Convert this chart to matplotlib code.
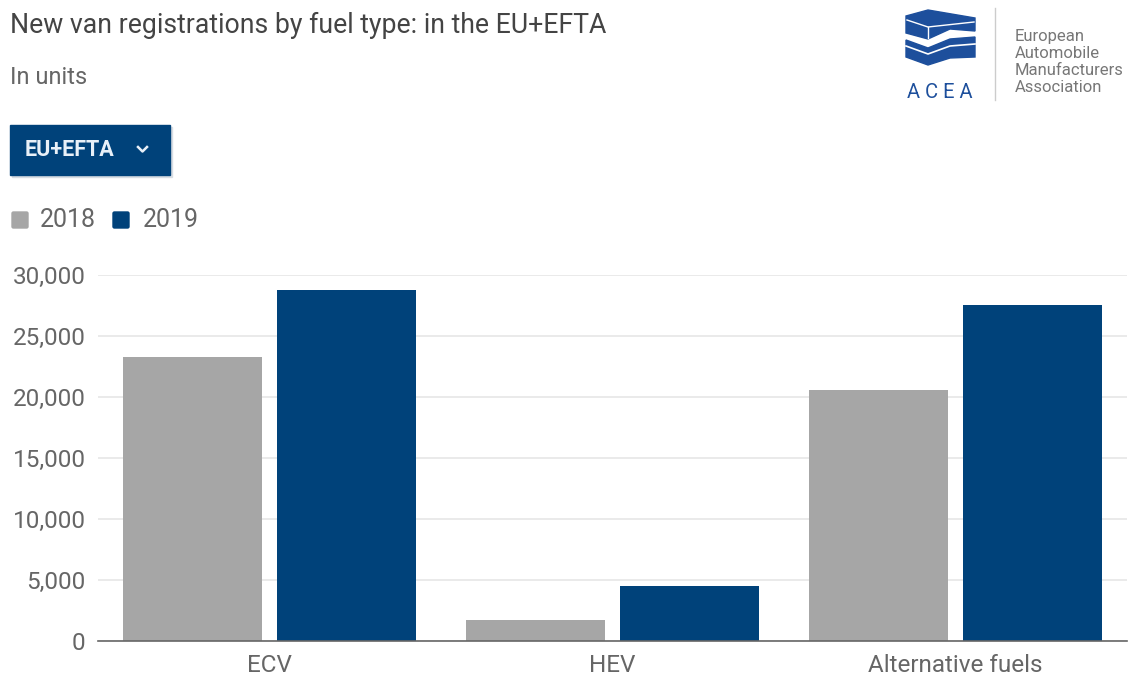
import matplotlib

matplotlib.use("Agg")
import matplotlib.pyplot as plt
import numpy as np
from matplotlib.patches import FancyBboxPatch, Polygon, Rectangle

plt.rcParams["font.family"] = ["Roboto", "DejaVu Sans"]

categories = ["ECV", "HEV", "Alternative fuels"]
years = ["2018", "2019"]
values_2018 = [23300, 1700, 20600]
values_2019 = [28800, 4500, 27500]
y_ticks = [0, 5000, 10000, 15000, 20000, 25000, 30000]

COL_2018 = "#a6a6a6"
COL_2019 = "#00427a"
TEXT_DARK = "#444444"
TEXT_MID = "#666666"

W, H = 1134, 677
fig = plt.figure(figsize=(W / 100, H / 100), dpi=100)
fig.patch.set_facecolor("white")


def fx(px):
    return px / W


def fy(py):
    return 1 - py / H


# main chart
ax = fig.add_axes([fx(98), fy(641), fx(1127) - fx(98), fy(275) - fy(641)])
x = np.arange(len(categories))
bw, gap = 0.405, 0.044
ax.bar(x - (bw + gap) / 2, values_2018, bw, color=COL_2018, zorder=2)
ax.bar(x + (bw + gap) / 2, values_2019, bw, color=COL_2019, zorder=2)
ax.set_xlim(-0.5, len(categories) - 0.5)
ax.set_ylim(0, 30000)
ax.set_yticks(y_ticks)
ax.set_yticklabels([f"{v:,}" for v in y_ticks])
ax.set_xticks(x)
ax.set_xticklabels(categories)
ax.yaxis.grid(True, color="#e6e6e6", linewidth=1.2, zorder=0)
ax.set_axisbelow(True)
for s in ("top", "right", "left"):
    ax.spines[s].set_visible(False)
ax.spines["bottom"].set_color("#666666")
ax.spines["bottom"].set_linewidth(1.2)
ax.spines["bottom"].set_zorder(3)
ax.tick_params(axis="both", length=0, labelsize=17.5, labelcolor=TEXT_MID)
ax.tick_params(axis="y", pad=9)
ax.tick_params(axis="x", pad=9)

# titles
fig.text(fx(10), fy(25), "New van registrations by fuel type: in the EU+EFTA",
         fontsize=19.2, color=TEXT_DARK, va="center", ha="left")
fig.text(fx(10), fy(77), "In units", fontsize=17, color=TEXT_MID, va="center", ha="left")

# dropdown button
over = fig.add_axes([0, 0, 1, 1], zorder=5)
over.set_xlim(0, W)
over.set_ylim(H, 0)
over.axis("off")
over.add_patch(Rectangle((12, 127), 160, 50, color="#d8dde3", zorder=1))
over.add_patch(Rectangle((10, 125), 160, 50, color="#00427a", zorder=2))
over.text(25, 150, "EU+EFTA", color="#e8f0f8", fontsize=15.5, fontweight="bold",
          va="center", ha="left", zorder=3)
over.plot([138, 142.5, 147], [147, 151.5, 147], color="#e8f0f8", lw=1.8, zorder=3)

# legend
for px_sq, px_txt, col, lab in [(12, 40, COL_2018, years[0]), (113, 143, COL_2019, years[1])]:
    over.add_patch(FancyBboxPatch((px_sq, 212), 16, 16, boxstyle="round,pad=0,rounding_size=1.5",
                                  color=col))
    over.text(px_txt, 220, lab, fontsize=18, color=TEXT_MID, va="center", ha="left")

# ACEA logo
logo_blue = "#1d4f9c"
over.add_patch(Polygon([(906, 16), (928, 10), (975, 18), (975, 31), (950, 29), (928, 39), (906, 33)],
                       color=logo_blue))
over.plot([907, 928, 974], [20, 27, 22], color="white", lw=1.0)
over.plot([928, 928], [27, 38], color="white", lw=1.0)
over.add_patch(Polygon([(906, 40), (928, 48), (950, 39), (975, 37), (975, 57), (950, 58), (928, 65), (906, 57)],
                       color=logo_blue))
over.plot([906, 928, 950, 975], [46, 54, 46, 44], color="white", lw=1.2)
over.text(940, 92, "A C E A", fontsize=14.5, color=logo_blue, ha="center", va="center")
over.plot([995, 995], [8, 100], color="#cccccc", lw=1.0)
over.text(1015, 62, "European\nAutomobile\nManufacturers\nAssociation", fontsize=12,
          color="#777777", ha="left", va="center", linespacing=1.15)

fig.savefig("out.png", dpi=100, facecolor="white")
